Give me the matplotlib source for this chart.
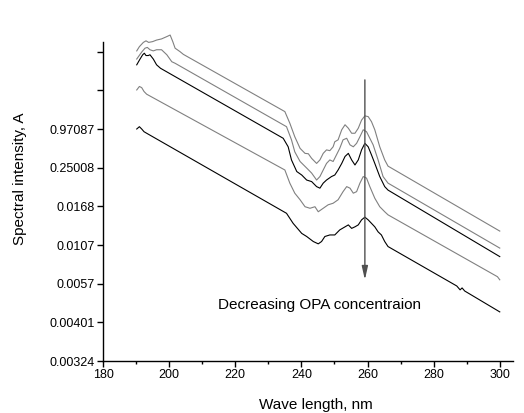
import matplotlib
matplotlib.use("Agg")
import matplotlib.pyplot as plt

plt.rcParams['font.family'] = ['Liberation Sans', 'DejaVu Sans']

# y values are in tick-position units (the axis labels are not linear values)
ytick_labels = ['0.00324', '0.00401', '0.0057', '0.0107', '0.0168',
                '0.25008', '0.97087', '', '']

# spectra, top to bottom (decreasing OPA concentration)
wl1 = [190.2, 191.0, 192.2, 193.0, 193.8, 195.0, 196.2, 197.7, 199.3, 200.3, 201.1, 201.8,
       203.3, 204.3, 235.0, 236.5, 238.0, 239.6, 241.1, 242.1, 243.1, 244.6, 245.6, 246.6,
       247.6, 248.6, 249.6, 250.1, 251.1, 252.2, 253.2, 254.2, 255.2, 256.2, 257.2, 258.2,
       259.2, 260.2, 261.2, 262.2, 263.7, 265.2, 266.2, 300.0]
s1 = [8.02, 8.13, 8.24, 8.28, 8.24, 8.26, 8.30, 8.33, 8.39, 8.43, 8.26, 8.09,
      8.00, 7.93, 6.45, 6.15, 5.80, 5.50, 5.37, 5.36, 5.24, 5.11, 5.20, 5.37,
      5.46, 5.44, 5.54, 5.67, 5.72, 5.98, 6.11, 6.02, 5.89, 5.89, 6.02, 6.23,
      6.34, 6.32, 6.19, 5.98, 5.54, 5.20, 5.04, 3.36]

wl2 = [190.2, 191.7, 192.7, 193.4, 194.2, 195.2, 196.2, 197.7, 199.3, 200.8, 201.8,
       235.5, 237.0, 238.0, 239.6, 241.6, 243.1, 244.6, 245.6, 246.6, 247.6, 248.6,
       249.6, 250.6, 251.6, 252.6, 253.7, 254.7, 255.7, 256.7, 257.7, 258.7, 259.7,
       260.7, 261.7, 263.2, 264.7, 266.2, 300.0]
s2 = [7.81, 7.99, 8.09, 8.11, 8.05, 8.02, 8.05, 8.05, 7.92, 7.74, 7.70,
      6.06, 5.72, 5.41, 5.16, 4.99, 4.86, 4.68, 4.77, 4.94, 5.11, 5.20,
      5.16, 5.33, 5.50, 5.72, 5.76, 5.59, 5.54, 5.63, 5.80, 5.98, 5.93,
      5.76, 5.59, 5.20, 4.77, 4.60, 2.92]

wl3 = [190.2, 191.2, 192.0, 192.5, 193.0, 193.7, 194.2, 195.2, 196.2, 197.4,
       234.5, 236.0, 237.0, 238.6, 240.1, 241.6, 243.1, 244.6, 245.6, 246.6, 247.6,
       249.1, 250.1, 251.1, 252.2, 253.2, 254.2, 255.2, 256.2, 257.2, 258.2, 259.2,
       260.2, 261.2, 262.2, 263.7, 265.2, 266.2, 300.0]
s3 = [7.66, 7.81, 7.92, 7.96, 7.90, 7.90, 7.92, 7.81, 7.66, 7.57,
      5.76, 5.54, 5.20, 4.90, 4.81, 4.68, 4.64, 4.51, 4.47, 4.60, 4.68,
      4.77, 4.81, 4.94, 5.11, 5.29, 5.37, 5.20, 5.07, 5.20, 5.46, 5.63,
      5.54, 5.33, 5.11, 4.77, 4.51, 4.42, 2.70]

wl4 = [190.2, 191.0, 191.7, 192.4, 193.2, 235.0, 236.5, 238.0, 239.6, 241.1, 242.6,
       244.1, 245.1, 246.6, 248.1, 249.6, 251.1, 252.6, 253.7, 254.7, 255.7, 256.7,
       257.7, 258.7, 259.7, 260.7, 262.2, 263.7, 265.2, 266.2, 299.3, 300.0]
s4 = [7.01, 7.10, 7.07, 6.97, 6.90, 4.94, 4.60, 4.34, 4.17, 3.99, 3.95,
      3.99, 3.86, 3.95, 4.04, 4.08, 4.17, 4.38, 4.51, 4.47, 4.34, 4.38,
      4.60, 4.77, 4.73, 4.51, 4.21, 3.99, 3.86, 3.78, 2.18, 2.10]

wl5 = [190.2, 191.0, 191.7, 192.4, 193.2, 235.5, 237.5, 240.1, 241.6, 243.6, 245.1,
       246.1, 247.1, 248.6, 250.1, 251.6, 253.2, 254.2, 255.2, 256.2, 257.2, 258.2,
       259.2, 260.2, 261.2, 262.2, 263.2, 264.2, 265.2, 266.2, 287.0, 288.0, 288.6,
       289.4, 300.0]
s5 = [6.00, 6.06, 6.00, 5.93, 5.89, 3.82, 3.56, 3.30, 3.22, 3.09, 3.03,
      3.09, 3.22, 3.26, 3.26, 3.39, 3.47, 3.52, 3.43, 3.47, 3.52, 3.65,
      3.72, 3.65, 3.56, 3.47, 3.34, 3.26, 3.09, 2.96, 1.94, 1.84, 1.89,
      1.81, 1.27]

curves = [(wl1, s1, '#808080'), (wl2, s2, '#808080'), (wl3, s3, '#000000'),
          (wl4, s4, '#808080'), (wl5, s5, '#000000')]

arrow_x = 259.2
arrow_top, arrow_tip = 7.27, 2.10

fig = plt.figure(figsize=(5.24, 4.13), dpi=100)
ax = fig.add_axes([0.1966, 0.1259, 0.7824, 0.7724])

for wl, s, c in curves:
    ax.plot(wl, s, color=c, lw=0.8, clip_on=False)

ax.annotate('', xy=(arrow_x, arrow_tip), xytext=(arrow_x, arrow_top),
            arrowprops=dict(arrowstyle='-|>,head_length=0.8,head_width=0.18',
                            color='#505050', lw=1.0, shrinkA=0, shrinkB=0))
ax.text(214.8, 1.45, 'Decreasing OPA concentraion', fontsize=11, va='center', ha='left')

ax.set_xlim(180, 304)
ax.set_ylim(0, 8.25)
ax.set_xticks(range(180, 301, 20))
ax.set_xticks(range(190, 301, 20), minor=True)
ax.set_yticks(range(len(ytick_labels)))
ax.set_yticklabels(ytick_labels)

for side in ['top', 'right']:
    ax.spines[side].set_visible(False)
for side in ['left', 'bottom']:
    ax.spines[side].set_linewidth(1.0)
ax.tick_params(which='major', direction='out', length=4, width=1.0, labelsize=9, pad=2)
ax.tick_params(which='minor', direction='out', length=2.5, width=1.0)

ax.set_xlabel('Wave length, nm', fontsize=11)
ax.set_ylabel('Spectral intensity, A', fontsize=11)
ax.xaxis.set_label_coords(0.52, -0.115)
ax.yaxis.set_label_coords(-0.185, 0.57)

fig.savefig('out.png', dpi=100)
